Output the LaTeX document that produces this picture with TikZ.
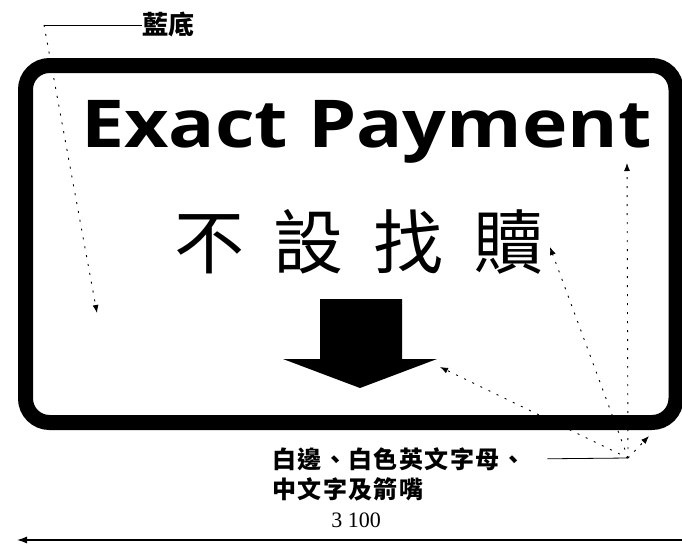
\documentclass[tikz,border=0pt]{standalone}
\usepackage{fontspec}
\setmainfont{Liberation Serif}
\newfontfamily\signfont{Open Sans}
\newfontfamily\cjk{Noto Sans CJK TC}
\newfontfamily\cjkwide[LetterSpace=6]{Noto Sans CJK TC}
\usetikzlibrary{arrows.meta}

\tikzset{
  leader/.style={line width=0.9pt, dash pattern=on 2pt off 7pt,
    -{Latex[length=8pt,width=6pt]}},
  note/.style={font=\cjkwide\bfseries\fontsize{24}{30}\selectfont, inner sep=0pt},
  border/.style={line width=15pt, rounded corners=24pt}
}

\begin{document}
\begin{tikzpicture}[x=1pt, y=-1pt]
    \useasboundingbox (0,0) rectangle (682,544);

    % Sign outline
    \draw[border] (25.5,65.5) rectangle (676,422.5);

    % Sign texts
    \node[font=\signfont\bfseries\fontsize{66}{66}\selectfont, inner sep=0pt, anchor=base] (eng) at (366.5,147) {\scalebox{1.166}[1]{Exact Payment}};
    \node[font=\cjk\fontsize{70}{70}\selectfont, inner sep=0pt] (chi) at (359,241.5) {不\hspace{30pt}設\hspace{30pt}找\hspace{30pt}贖};

    % Down arrow
    \fill (320,299) -- (402,299) -- (402,359) -- (437,359) -- (360,388) -- (283,359) -- (320,359) -- cycle;

    % Blue background note
    \node[note, font=\cjk\bfseries\fontsize{26}{26}\selectfont, anchor=west] (blue) at (142,25) {藍底};
    \coordinate (hubL) at (44,25);
    \coordinate (bgpt) at (97,313);
    \draw[line width=0.8pt] (blue.west) -- (hubL);
    \draw[leader] (hubL) -- (bgpt);

    % White items note
    \node[note, anchor=west] (white1) at (272,459) {白邊、白色英文字母、};
    \node[note, anchor=north west] (white2) at (white1.south west) [yshift=-7pt] {中文字及箭嘴};
    \coordinate (hubR) at (628,458);
    \draw[line width=0.8pt, shorten <=22pt] (white1.east) -- (hubR);
    \coordinate (ptT) at (627,163);
    \coordinate (ptDu) at (550,247);
    \coordinate (ptArr) at (440,367);
    \coordinate (ptEdge) at (649,436);
    \foreach \p in {ptT, ptDu, ptArr, ptEdge}
        \draw[leader] (hubR) -- (\p);

    % Width dimension
    \node[font=\fontsize{22}{22}\selectfont, inner sep=0pt] (width) at (356,520) {3 100};
    \coordinate (dimR) at (682,540);
    \coordinate (dimL) at (17,540);
    \draw[line width=1.2pt, -{Latex[length=10pt,width=7pt]}] (dimR) -- (dimL);
\end{tikzpicture}
\end{document}
